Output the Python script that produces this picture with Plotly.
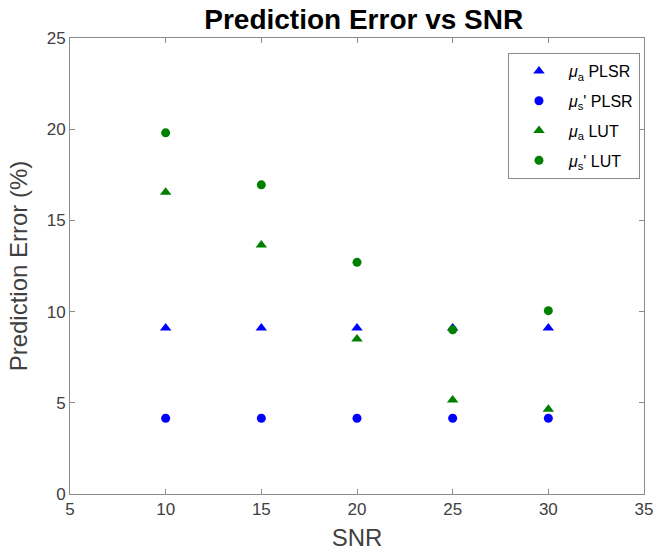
import plotly.graph_objects as go

snr = [10, 15, 20, 25, 30]
mua_plsr = [9.1, 9.1, 9.1, 9.1, 9.1]
mus_plsr = [4.15, 4.15, 4.15, 4.15, 4.15]
mua_lut = [16.55, 13.65, 8.5, 5.15, 4.65]
mus_lut = [19.8, 16.95, 12.7, 9.0, 10.05]

names = ["<i>μ</i><sub>a</sub> PLSR", "<i>μ</i><sub>s</sub>' PLSR",
         "<i>μ</i><sub>a</sub> LUT", "<i>μ</i><sub>s</sub>' LUT"]
series = [mua_plsr, mus_plsr, mua_lut, mus_lut]
symbols = ["triangle-up", "circle", "triangle-up", "circle"]
colors = ["#0000FF", "#0000FF", "#008000", "#008000"]

fig = go.Figure()
for i, (nm, ys, sym, col) in enumerate(zip(names, series, symbols, colors)):
    fig.add_trace(go.Scatter(
        x=snr, y=ys, mode="markers", name=nm, legendgroup=f"g{i}",
        marker=dict(symbol=sym, color=col, size=10 if sym == "triangle-up" else 9,
                    line=dict(width=0)),
    ))

FONT = "Liberation Sans, Arial"
axis_common = dict(
    showgrid=False, zeroline=False, showline=True, linecolor="#8a8a8a", linewidth=1,
    mirror="ticks", ticks="inside", ticklen=5, tickcolor="#8a8a8a",
    tickfont=dict(family=FONT, size=17, color="#404040"),
)
fig.update_xaxes(range=[5, 35], tickvals=[5, 10, 15, 20, 25, 30, 35],
                 title=dict(text="SNR", font=dict(family=FONT, size=24, color="#404040"), standoff=10),
                 **axis_common)
fig.update_yaxes(range=[0, 25], tickvals=[0, 5, 10, 15, 20, 25],
                 title=dict(text="Prediction Error (%)", font=dict(family=FONT, size=24, color="#404040"), standoff=12),
                 **axis_common)

fig.update_layout(
    width=665, height=558,
    margin=dict(l=70, r=13, t=38, b=64),
    paper_bgcolor="white", plot_bgcolor="white",
    title=dict(text="<b>Prediction Error vs SNR</b>", x=0.547, xanchor="center", y=0.965, yanchor="middle",
               font=dict(family=FONT, size=28, color="black")),
    legend=dict(x=0.993, y=0.967, xanchor="right", yanchor="top",
                bordercolor="#8a8a8a", borderwidth=1, bgcolor="white",
                tracegroupgap=6, itemwidth=50,
                font=dict(family=FONT, size=16, color="black")),
    showlegend=True,
)
fig.write_html("out.html")
